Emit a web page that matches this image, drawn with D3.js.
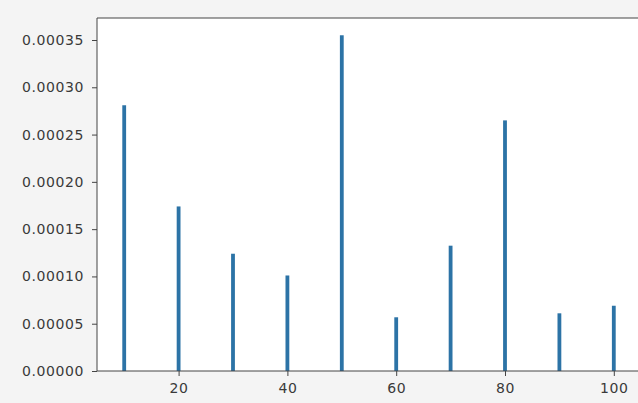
<!DOCTYPE html>
<html>
<head>
<meta charset="utf-8">
<script src="https://cdn.jsdelivr.net/npm/d3@7"></script>
<style>
  html, body { margin: 0; padding: 0; background: #f4f4f4; }
  svg { display: block; }
  text { font-family: "DejaVu Sans", sans-serif; }
</style>
</head>
<body>
<svg id="chart" width="638" height="403"></svg>
<script>
const categories = [10, 20, 30, 40, 50, 60, 70, 80, 90, 100];
const values = [0.000281, 0.000174, 0.000124, 0.000101, 0.000355, 0.0000568, 0.0001325, 0.000265, 0.000061, 0.000069];
const yTicks = [0, 0.00005, 0.0001, 0.00015, 0.0002, 0.00025, 0.0003, 0.00035];
const xTicks = [20, 40, 60, 80, 100];

(function () {
const svg = d3.select("#chart");
const mLeft = 97, mTop = 18, mBottom = 371, mRight = 641;

const x = d3.scaleLinear().domain([5, 105]).range([mLeft, mRight]);
const y = d3.scaleLinear().domain([0, 0.00035]).range([mBottom, 40]);

svg.append("rect").attr("x", mLeft).attr("y", mTop)
  .attr("width", mRight - mLeft).attr("height", mBottom - mTop).attr("fill", "#ffffff");

const barW = x(0.7) - x(0);
svg.append("g").selectAll("rect").data(categories).join("rect")
  .attr("x", (d) => x(d) - barW / 2)
  .attr("y", (d, i) => y(values[i]))
  .attr("width", barW)
  .attr("height", (d, i) => y(0) - y(values[i]))
  .attr("fill", "#2c73a6");

const yAxis = svg.append("g").attr("transform", `translate(${mLeft},0)`)
  .call(d3.axisLeft(y).tickValues(yTicks).tickFormat(d3.format(".5f")).tickSize(5).tickPadding(8));
const xAxis = svg.append("g").attr("transform", `translate(0,${mBottom})`)
  .call(d3.axisBottom(x).tickValues(xTicks).tickFormat(d3.format("d")).tickSize(5).tickPadding(7));

[yAxis, xAxis].forEach(g => {
  g.select(".domain").remove();
  g.selectAll("line").attr("stroke", "#444");
  g.selectAll("text").attr("fill", "#3a3a3a").style("font-size", "14px").style("letter-spacing", "0.6px");
});

svg.append("line").attr("x1", mLeft).attr("x2", mLeft).attr("y1", mTop).attr("y2", mBottom).attr("stroke", "#444");
svg.append("line").attr("x1", mLeft).attr("x2", mRight).attr("y1", mTop).attr("y2", mTop).attr("stroke", "#444");
svg.append("line").attr("x1", mLeft).attr("x2", mRight).attr("y1", mBottom).attr("y2", mBottom).attr("stroke", "#444");
})();
</script>
</body>
</html>
